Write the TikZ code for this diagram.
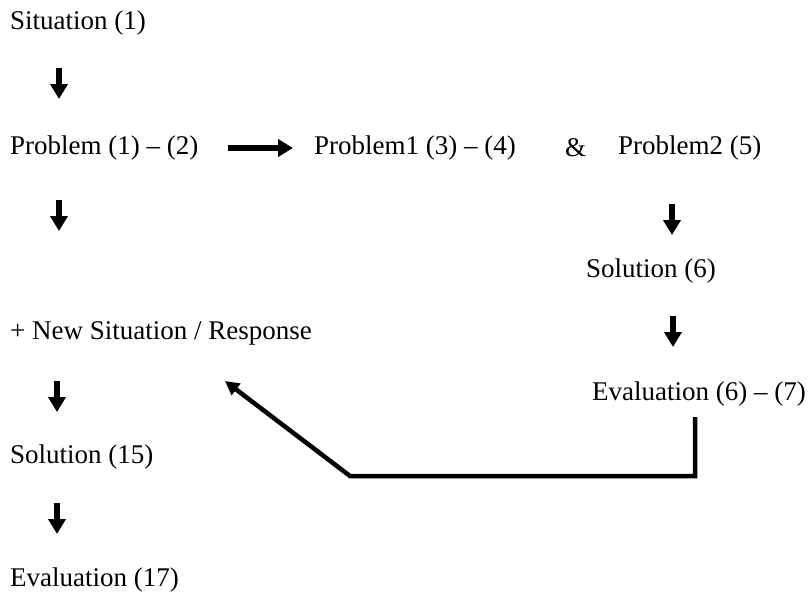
\documentclass[tikz,border=0pt]{standalone}
\usepackage{fontspec}
\setmainfont{Liberation Serif}
\usetikzlibrary{arrows.meta}
\begin{document}
\begin{tikzpicture}[x=1pt,y=-1pt,
  lbl/.style={anchor=west,inner sep=0pt,font=\fontsize{27}{32}\selectfont},
  blockarrow/.style={line width=6pt,-{Triangle[length=15pt,width=17pt]}},
  feedback/.style={line width=4.5pt,-{Triangle[length=14pt,width=14pt]}}]
\useasboundingbox (0,0) rectangle (808,592);
\node[lbl] (sit) at (10,23) {Situation (1)};
\node[lbl] (prob) at (10,148) {Problem (1) -- (2)};
\node[lbl] (prob1) at (314,148) {Problem1 (3) -- (4)};
\node[lbl] (amp) at (565,148) {\&};
\node[lbl] (prob2) at (618,148) {Problem2 (5)};
\node[lbl] (sol6) at (586,271) {Solution (6)};
\node[lbl] (newsit) at (10,333) {+ New Situation / Response};
\node[lbl] (eval67) at (592,394) {Evaluation (6) -- (7)};
\node[lbl] (sol15) at (10,457) {Solution (15)};
\node[lbl] (eval17) at (10,580) {Evaluation (17)};
% block arrows
\coordinate (a1s) at (59,68);  \coordinate (a1e) at (59,99);
\coordinate (a2s) at (59,200); \coordinate (a2e) at (59,231);
\coordinate (a3s) at (57,381); \coordinate (a3e) at (57,412);
\coordinate (a4s) at (57,503); \coordinate (a4e) at (57,534);
\coordinate (a5s) at (672,204); \coordinate (a5e) at (672,235);
\coordinate (a6s) at (673,316); \coordinate (a6e) at (673,347);
\coordinate (h1s) at (228,148); \coordinate (h1e) at (293,148);
\draw[blockarrow] (a1s) -- (a1e);
\draw[blockarrow] (a2s) -- (a2e);
\draw[blockarrow] (a3s) -- (a3e);
\draw[blockarrow] (a4s) -- (a4e);
\draw[blockarrow] (a5s) -- (a5e);
\draw[blockarrow] (a6s) -- (a6e);
\draw[blockarrow] (h1s) -- (h1e);
% feedback connector
\coordinate (fbtop) at (695,417);
\coordinate (fbcorner) at (695,476);
\coordinate (fbbend) at (350,476);
\coordinate (fbend) at (225,381);
\draw[feedback] (fbtop) -- (fbcorner) -- (fbbend) -- (fbend);
\end{tikzpicture}
\end{document}
